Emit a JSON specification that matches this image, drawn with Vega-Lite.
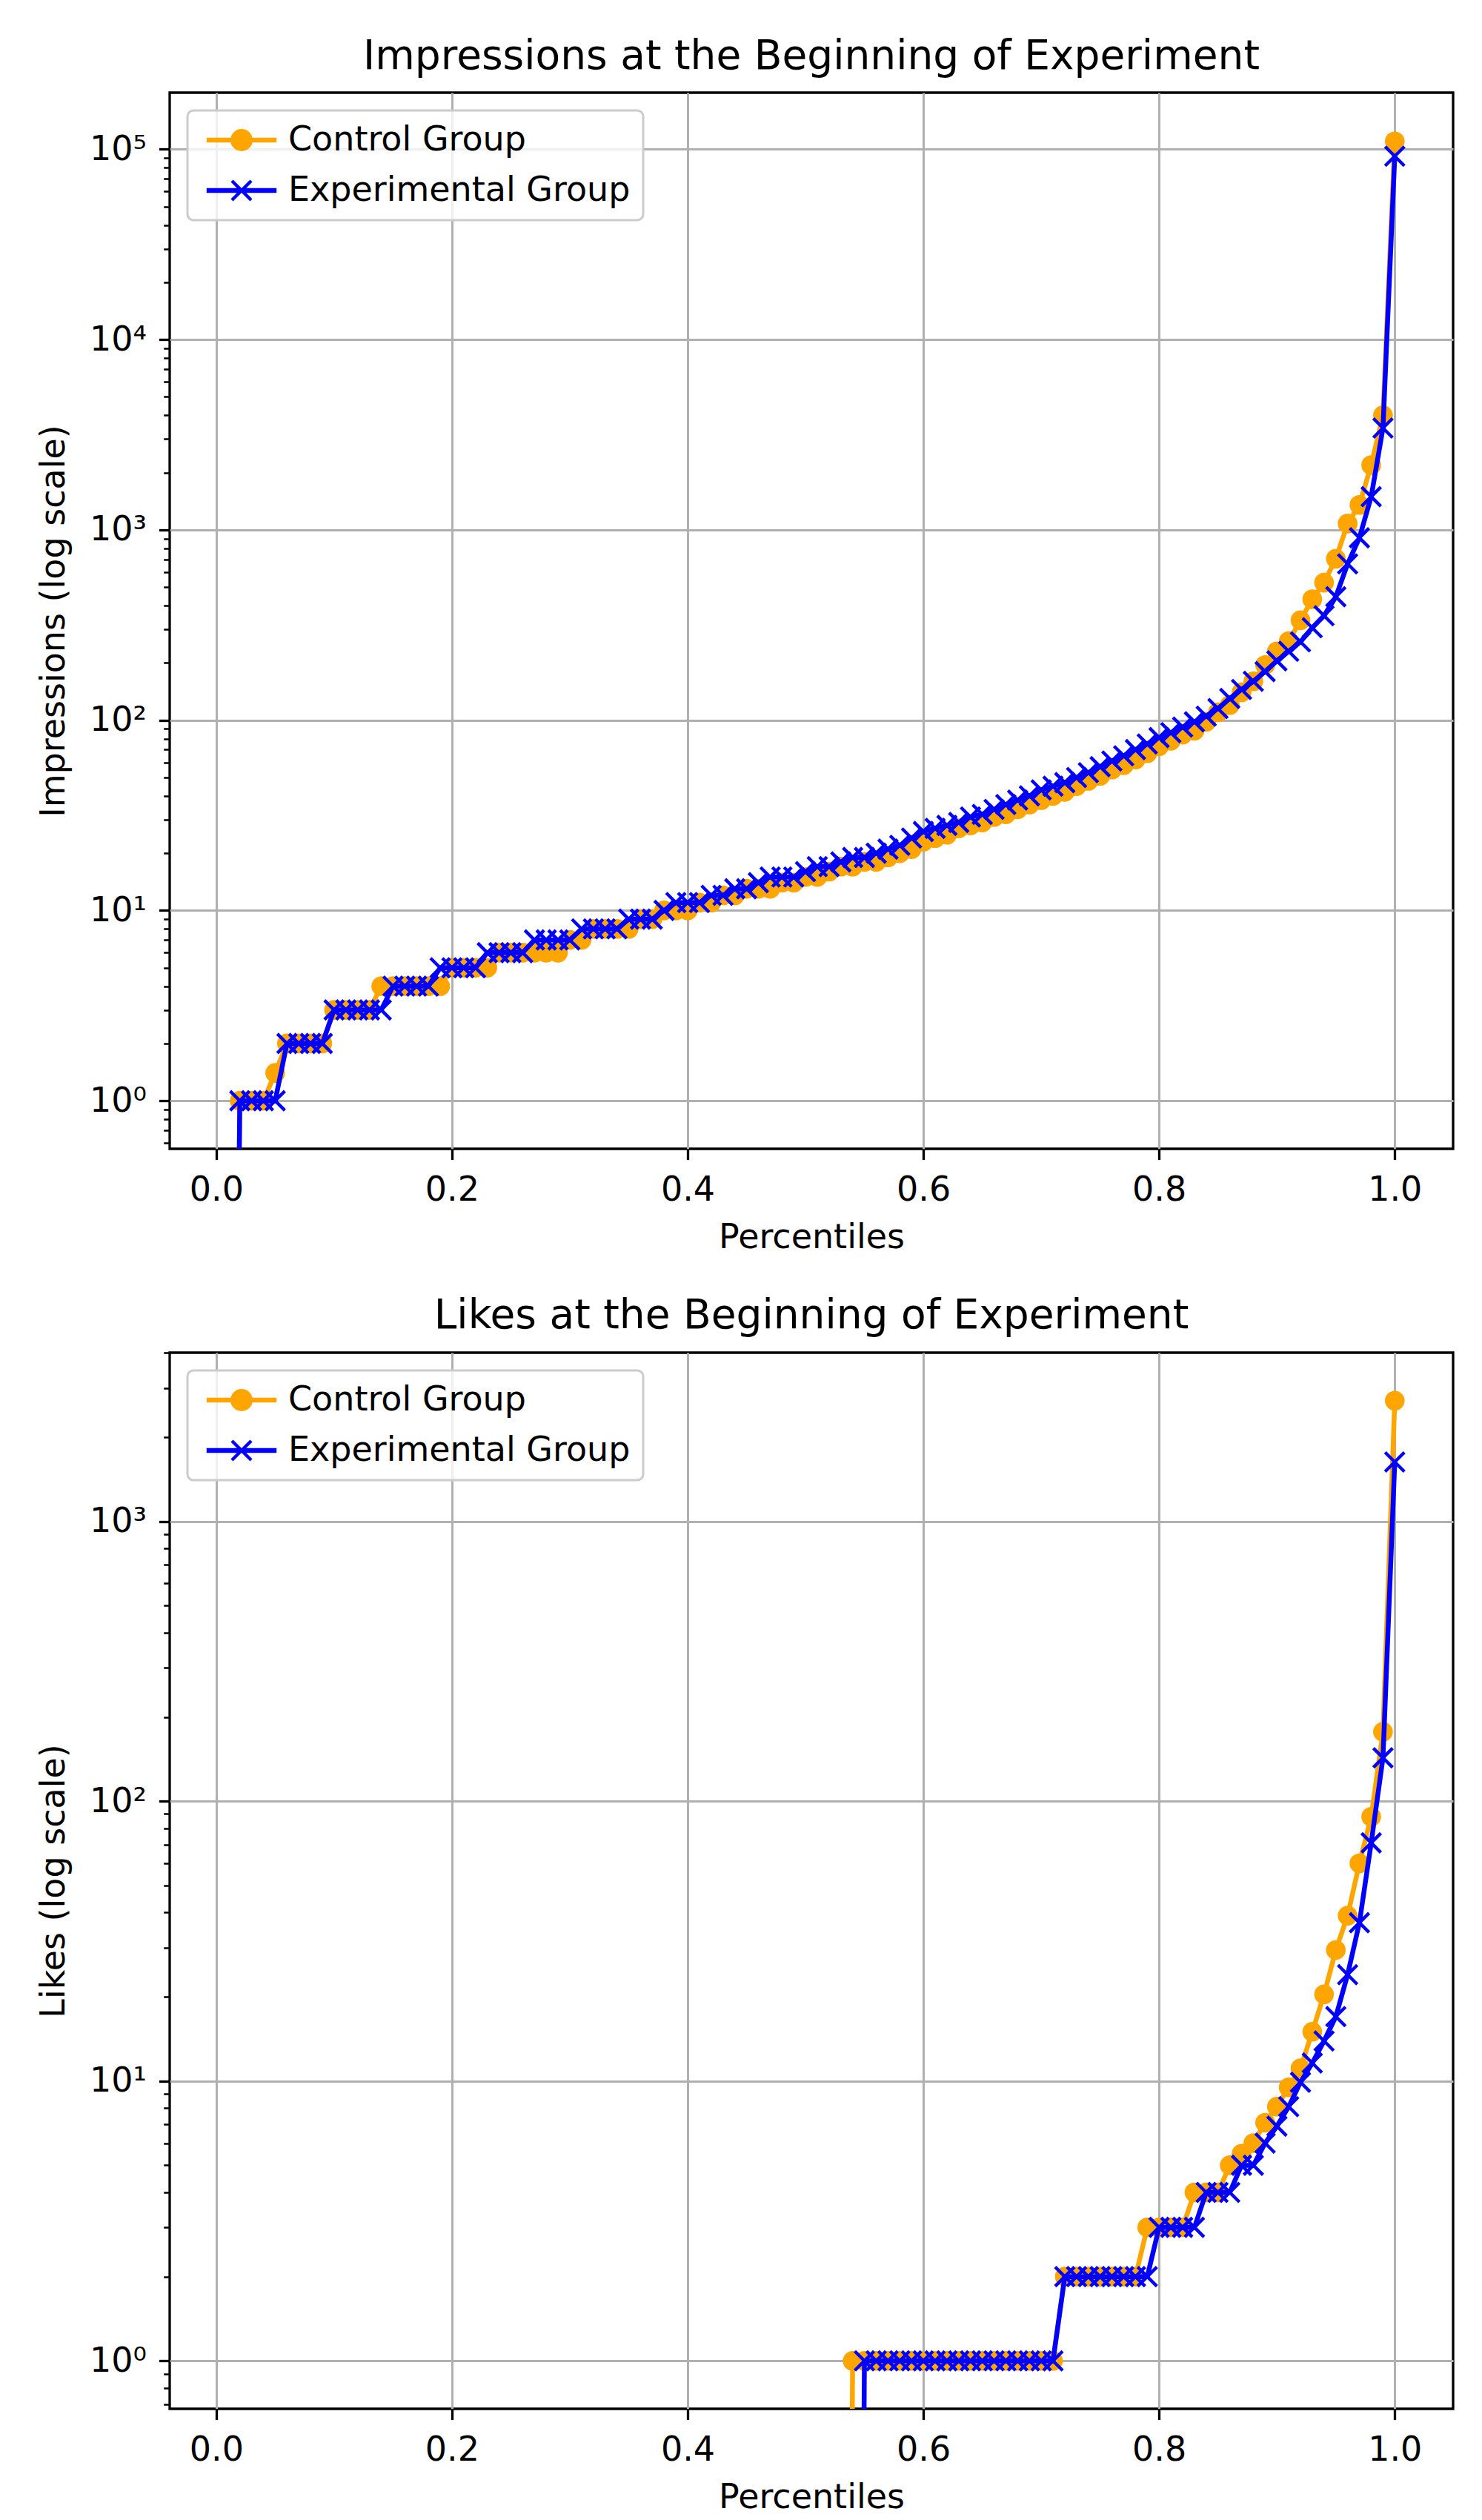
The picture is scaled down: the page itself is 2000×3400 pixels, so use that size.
{
  "$schema": "https://vega.github.io/schema/vega-lite/v6.json",
  "background": "white",
  "padding": {"left": 47, "top": 47, "right": 30, "bottom": 20},
  "spacing": 275,
  "bounds": "flush",
  "datasets": {
    "impressions": [
      {"p": 0.01, "control": 0.000001, "experimental": 0.000001},
      {"p": 0.02, "control": 1, "experimental": 1},
      {"p": 0.03, "control": 1, "experimental": 1},
      {"p": 0.04, "control": 1, "experimental": 1},
      {"p": 0.05, "control": 1.4, "experimental": 1},
      {"p": 0.06, "control": 2, "experimental": 2},
      {"p": 0.07, "control": 2, "experimental": 2},
      {"p": 0.08, "control": 2, "experimental": 2},
      {"p": 0.09, "control": 2, "experimental": 2},
      {"p": 0.10, "control": 3, "experimental": 3},
      {"p": 0.11, "control": 3, "experimental": 3},
      {"p": 0.12, "control": 3, "experimental": 3},
      {"p": 0.13, "control": 3, "experimental": 3},
      {"p": 0.14, "control": 4, "experimental": 3},
      {"p": 0.15, "control": 4, "experimental": 4},
      {"p": 0.16, "control": 4, "experimental": 4},
      {"p": 0.17, "control": 4, "experimental": 4},
      {"p": 0.18, "control": 4, "experimental": 4},
      {"p": 0.19, "control": 4, "experimental": 5},
      {"p": 0.20, "control": 5, "experimental": 5},
      {"p": 0.21, "control": 5, "experimental": 5},
      {"p": 0.22, "control": 5, "experimental": 5},
      {"p": 0.23, "control": 5, "experimental": 6},
      {"p": 0.24, "control": 6, "experimental": 6},
      {"p": 0.25, "control": 6, "experimental": 6},
      {"p": 0.26, "control": 6, "experimental": 6},
      {"p": 0.27, "control": 6, "experimental": 7},
      {"p": 0.28, "control": 6, "experimental": 7},
      {"p": 0.29, "control": 6, "experimental": 7},
      {"p": 0.30, "control": 7, "experimental": 7},
      {"p": 0.31, "control": 7, "experimental": 8},
      {"p": 0.32, "control": 8, "experimental": 8},
      {"p": 0.33, "control": 8, "experimental": 8},
      {"p": 0.34, "control": 8, "experimental": 8},
      {"p": 0.35, "control": 8, "experimental": 9},
      {"p": 0.36, "control": 9, "experimental": 9},
      {"p": 0.37, "control": 9, "experimental": 9},
      {"p": 0.38, "control": 10, "experimental": 10},
      {"p": 0.39, "control": 10, "experimental": 11},
      {"p": 0.40, "control": 10, "experimental": 11},
      {"p": 0.41, "control": 11, "experimental": 11},
      {"p": 0.42, "control": 11, "experimental": 12},
      {"p": 0.43, "control": 12, "experimental": 12},
      {"p": 0.44, "control": 12, "experimental": 13},
      {"p": 0.45, "control": 13, "experimental": 13},
      {"p": 0.46, "control": 13, "experimental": 14},
      {"p": 0.47, "control": 13, "experimental": 15},
      {"p": 0.48, "control": 14, "experimental": 15},
      {"p": 0.49, "control": 14, "experimental": 15},
      {"p": 0.50, "control": 15, "experimental": 16},
      {"p": 0.51, "control": 15, "experimental": 17},
      {"p": 0.52, "control": 16, "experimental": 17},
      {"p": 0.53, "control": 17, "experimental": 18},
      {"p": 0.54, "control": 17, "experimental": 19},
      {"p": 0.55, "control": 18, "experimental": 19},
      {"p": 0.56, "control": 18, "experimental": 20},
      {"p": 0.57, "control": 19, "experimental": 21},
      {"p": 0.58, "control": 20, "experimental": 22},
      {"p": 0.59, "control": 21, "experimental": 24},
      {"p": 0.60, "control": 23, "experimental": 26},
      {"p": 0.61, "control": 24, "experimental": 27},
      {"p": 0.62, "control": 25, "experimental": 28},
      {"p": 0.63, "control": 27, "experimental": 29},
      {"p": 0.64, "control": 28, "experimental": 31},
      {"p": 0.65, "control": 29, "experimental": 32},
      {"p": 0.66, "control": 31, "experimental": 34},
      {"p": 0.67, "control": 32, "experimental": 36},
      {"p": 0.68, "control": 34, "experimental": 38},
      {"p": 0.69, "control": 36, "experimental": 40},
      {"p": 0.70, "control": 38, "experimental": 43},
      {"p": 0.71, "control": 40, "experimental": 45},
      {"p": 0.72, "control": 42, "experimental": 47},
      {"p": 0.73, "control": 45, "experimental": 50},
      {"p": 0.74, "control": 48, "experimental": 53},
      {"p": 0.75, "control": 51, "experimental": 57},
      {"p": 0.76, "control": 55, "experimental": 61},
      {"p": 0.77, "control": 58, "experimental": 65},
      {"p": 0.78, "control": 62, "experimental": 70},
      {"p": 0.79, "control": 67, "experimental": 75},
      {"p": 0.80, "control": 73, "experimental": 81},
      {"p": 0.81, "control": 78, "experimental": 86},
      {"p": 0.82, "control": 84, "experimental": 92},
      {"p": 0.83, "control": 88, "experimental": 98},
      {"p": 0.84, "control": 98, "experimental": 105},
      {"p": 0.85, "control": 110, "experimental": 115},
      {"p": 0.86, "control": 120, "experimental": 130},
      {"p": 0.87, "control": 140, "experimental": 145},
      {"p": 0.88, "control": 160, "experimental": 160},
      {"p": 0.89, "control": 195, "experimental": 180},
      {"p": 0.90, "control": 230, "experimental": 205},
      {"p": 0.91, "control": 260, "experimental": 230},
      {"p": 0.92, "control": 335, "experimental": 258},
      {"p": 0.93, "control": 432, "experimental": 306},
      {"p": 0.94, "control": 528, "experimental": 354},
      {"p": 0.95, "control": 705, "experimental": 445},
      {"p": 0.96, "control": 1079, "experimental": 663},
      {"p": 0.97, "control": 1352, "experimental": 908},
      {"p": 0.98, "control": 2190, "experimental": 1494},
      {"p": 0.99, "control": 4000, "experimental": 3430},
      {"p": 1.00, "control": 110000, "experimental": 92000}
    ],
    "likes": [
      {"p": 0.01, "control": 0.000001, "experimental": 0.000001},
      {"p": 0.02, "control": 0.000001, "experimental": 0.000001},
      {"p": 0.03, "control": 0.000001, "experimental": 0.000001},
      {"p": 0.04, "control": 0.000001, "experimental": 0.000001},
      {"p": 0.05, "control": 0.000001, "experimental": 0.000001},
      {"p": 0.06, "control": 0.000001, "experimental": 0.000001},
      {"p": 0.07, "control": 0.000001, "experimental": 0.000001},
      {"p": 0.08, "control": 0.000001, "experimental": 0.000001},
      {"p": 0.09, "control": 0.000001, "experimental": 0.000001},
      {"p": 0.10, "control": 0.000001, "experimental": 0.000001},
      {"p": 0.11, "control": 0.000001, "experimental": 0.000001},
      {"p": 0.12, "control": 0.000001, "experimental": 0.000001},
      {"p": 0.13, "control": 0.000001, "experimental": 0.000001},
      {"p": 0.14, "control": 0.000001, "experimental": 0.000001},
      {"p": 0.15, "control": 0.000001, "experimental": 0.000001},
      {"p": 0.16, "control": 0.000001, "experimental": 0.000001},
      {"p": 0.17, "control": 0.000001, "experimental": 0.000001},
      {"p": 0.18, "control": 0.000001, "experimental": 0.000001},
      {"p": 0.19, "control": 0.000001, "experimental": 0.000001},
      {"p": 0.20, "control": 0.000001, "experimental": 0.000001},
      {"p": 0.21, "control": 0.000001, "experimental": 0.000001},
      {"p": 0.22, "control": 0.000001, "experimental": 0.000001},
      {"p": 0.23, "control": 0.000001, "experimental": 0.000001},
      {"p": 0.24, "control": 0.000001, "experimental": 0.000001},
      {"p": 0.25, "control": 0.000001, "experimental": 0.000001},
      {"p": 0.26, "control": 0.000001, "experimental": 0.000001},
      {"p": 0.27, "control": 0.000001, "experimental": 0.000001},
      {"p": 0.28, "control": 0.000001, "experimental": 0.000001},
      {"p": 0.29, "control": 0.000001, "experimental": 0.000001},
      {"p": 0.30, "control": 0.000001, "experimental": 0.000001},
      {"p": 0.31, "control": 0.000001, "experimental": 0.000001},
      {"p": 0.32, "control": 0.000001, "experimental": 0.000001},
      {"p": 0.33, "control": 0.000001, "experimental": 0.000001},
      {"p": 0.34, "control": 0.000001, "experimental": 0.000001},
      {"p": 0.35, "control": 0.000001, "experimental": 0.000001},
      {"p": 0.36, "control": 0.000001, "experimental": 0.000001},
      {"p": 0.37, "control": 0.000001, "experimental": 0.000001},
      {"p": 0.38, "control": 0.000001, "experimental": 0.000001},
      {"p": 0.39, "control": 0.000001, "experimental": 0.000001},
      {"p": 0.40, "control": 0.000001, "experimental": 0.000001},
      {"p": 0.41, "control": 0.000001, "experimental": 0.000001},
      {"p": 0.42, "control": 0.000001, "experimental": 0.000001},
      {"p": 0.43, "control": 0.000001, "experimental": 0.000001},
      {"p": 0.44, "control": 0.000001, "experimental": 0.000001},
      {"p": 0.45, "control": 0.000001, "experimental": 0.000001},
      {"p": 0.46, "control": 0.000001, "experimental": 0.000001},
      {"p": 0.47, "control": 0.000001, "experimental": 0.000001},
      {"p": 0.48, "control": 0.000001, "experimental": 0.000001},
      {"p": 0.49, "control": 0.000001, "experimental": 0.000001},
      {"p": 0.50, "control": 0.000001, "experimental": 0.000001},
      {"p": 0.51, "control": 0.000001, "experimental": 0.000001},
      {"p": 0.52, "control": 0.000001, "experimental": 0.000001},
      {"p": 0.53, "control": 0.000001, "experimental": 0.000001},
      {"p": 0.54, "control": 1, "experimental": 0.000001},
      {"p": 0.55, "control": 1, "experimental": 1},
      {"p": 0.56, "control": 1, "experimental": 1},
      {"p": 0.57, "control": 1, "experimental": 1},
      {"p": 0.58, "control": 1, "experimental": 1},
      {"p": 0.59, "control": 1, "experimental": 1},
      {"p": 0.60, "control": 1, "experimental": 1},
      {"p": 0.61, "control": 1, "experimental": 1},
      {"p": 0.62, "control": 1, "experimental": 1},
      {"p": 0.63, "control": 1, "experimental": 1},
      {"p": 0.64, "control": 1, "experimental": 1},
      {"p": 0.65, "control": 1, "experimental": 1},
      {"p": 0.66, "control": 1, "experimental": 1},
      {"p": 0.67, "control": 1, "experimental": 1},
      {"p": 0.68, "control": 1, "experimental": 1},
      {"p": 0.69, "control": 1, "experimental": 1},
      {"p": 0.70, "control": 1, "experimental": 1},
      {"p": 0.71, "control": 1, "experimental": 1},
      {"p": 0.72, "control": 2, "experimental": 2},
      {"p": 0.73, "control": 2, "experimental": 2},
      {"p": 0.74, "control": 2, "experimental": 2},
      {"p": 0.75, "control": 2, "experimental": 2},
      {"p": 0.76, "control": 2, "experimental": 2},
      {"p": 0.77, "control": 2, "experimental": 2},
      {"p": 0.78, "control": 2, "experimental": 2},
      {"p": 0.79, "control": 3, "experimental": 2},
      {"p": 0.80, "control": 3, "experimental": 3},
      {"p": 0.81, "control": 3, "experimental": 3},
      {"p": 0.82, "control": 3, "experimental": 3},
      {"p": 0.83, "control": 4, "experimental": 3},
      {"p": 0.84, "control": 4, "experimental": 4},
      {"p": 0.85, "control": 4, "experimental": 4},
      {"p": 0.86, "control": 5, "experimental": 4},
      {"p": 0.87, "control": 5.5, "experimental": 5},
      {"p": 0.88, "control": 6, "experimental": 5},
      {"p": 0.89, "control": 7.1, "experimental": 6},
      {"p": 0.90, "control": 8.1, "experimental": 6.9},
      {"p": 0.91, "control": 9.5, "experimental": 8.1},
      {"p": 0.92, "control": 11.1, "experimental": 9.9},
      {"p": 0.93, "control": 15, "experimental": 11.6},
      {"p": 0.94, "control": 20.4, "experimental": 13.9},
      {"p": 0.95, "control": 29.4, "experimental": 17},
      {"p": 0.96, "control": 39, "experimental": 24},
      {"p": 0.97, "control": 60, "experimental": 36.8},
      {"p": 0.98, "control": 88, "experimental": 71},
      {"p": 0.99, "control": 177, "experimental": 143},
      {"p": 1.00, "control": 2700, "experimental": 1630}
    ]
  },
  "vconcat": [
    {
      "data": {"name": "impressions"},
      "width": 1732,
      "height": 1425,
      "title": {"text": "Impressions at the Beginning of Experiment"},
      "encoding": {
        "x": {
          "field": "p",
          "type": "quantitative",
          "scale": {"domain": [-0.0395, 1.0495], "nice": false, "zero": false},
          "axis": {"title": "Percentiles", "values": [0, 0.2, 0.4, 0.6, 0.8, 1.0], "format": ".1f"}
        }
      },
      "layer": [
        {
          "mark": {"type": "line", "clip": true, "strokeWidth": 6.5, "strokeJoin": "round"},
          "encoding": {
            "y": {
              "field": "control",
              "type": "quantitative",
              "scale": {"type": "log", "domain": [0.559, 198400], "nice": false},
              "axis": {
                "orient": "left",
                "title": "Impressions (log scale)",
                "values": [1, 10, 100, 1000, 10000, 100000],
                "labelExpr": "'10' + ['⁰','¹','²','³','⁴','⁵'][round(log(datum.value) / LN10)]",
                "grid": true
              }
            },
            "color": {
              "datum": "Control Group",
              "type": "nominal",
              "scale": {"domain": ["Control Group", "Experimental Group"], "range": ["#ffa500", "#0000ff"]},
              "legend": {
                "title": null,
                "orient": "top-left",
                "offset": 24,
                "padding": 17,
                "fillColor": "rgba(255,255,255,0.8)",
                "strokeColor": "#cccccc",
                "cornerRadius": 8,
                "symbolSize": 900,
                "symbolOffset": 33,
                "labelFontSize": 46,
                "labelColor": "black",
                "labelOffset": 40,
                "labelLimit": 1000,
                "rowPadding": 22,
                "encoding": {
                  "legend": {"strokeWidth": {"value": 3}},
                  "symbols": {
                    "shape": {"condition": {"test": "datum.value === 'Control Group'", "value": "M-3,-0.07L3,-0.07L3,0.07L-3,0.07Z M-0.853,0A0.853,0.853 0 1,1 0.853,0A0.853,0.853 0 1,1 -0.853,0Z"}, "value": "M-3,-0.07L3,-0.07L3,0.07L-3,0.07Z M-0.867,-0.867L0.867,0.867 M-0.867,0.867L0.867,-0.867"},
                    "fill": {"condition": {"test": "datum.value === 'Control Group'", "value": "#ffa500"}, "value": "#0000ff"},
                    "stroke": {"condition": {"test": "datum.value === 'Control Group'", "value": "#ffa500"}, "value": "#0000ff"},
                    "strokeWidth": {"value": 4.4},
                    "size": {"value": 900},
                    "opacity": {"value": 1}
                  }
                }
              }
            }
          }
        },
        {
          "mark": {"type": "point", "clip": true, "filled": true, "opacity": 1, "shape": "circle", "size": 707},
          "encoding": {
            "y": {
              "field": "control",
              "type": "quantitative",
              "axis": {
                "orient": "left",
                "title": null,
                "values": [0.6, 0.7, 0.8, 0.9, 2, 3, 4, 5, 6, 7, 8, 9, 20, 30, 40, 50, 60, 70, 80, 90, 200, 300, 400, 500, 600, 700, 800, 900, 2000, 3000, 4000, 5000, 6000, 7000, 8000, 9000, 20000, 30000, 40000, 50000, 60000, 70000, 80000, 90000],
                "labels": false,
                "grid": false,
                "tickSize": 8.3,
                "tickWidth": 2.5
              }
            },
            "color": {"datum": "Control Group", "type": "nominal"}
          }
        },
        {
          "mark": {"type": "line", "clip": true, "strokeWidth": 6.5, "strokeJoin": "round"},
          "encoding": {
            "y": {"field": "experimental", "type": "quantitative", "axis": null},
            "color": {"datum": "Experimental Group", "type": "nominal"}
          }
        },
        {
          "mark": {"type": "point", "clip": true, "filled": false, "opacity": 1, "shape": "M-1,-1L1,1M-1,1L1,-1", "size": 676, "strokeWidth": 4.4},
          "encoding": {
            "y": {"field": "experimental", "type": "quantitative", "axis": null},
            "color": {"datum": "Experimental Group", "type": "nominal"}
          }
        }
      ],
      "resolve": {"axis": {"y": "independent"}}
    },
    {
      "data": {"name": "likes"},
      "width": 1732,
      "height": 1425,
      "title": {"text": "Likes at the Beginning of Experiment"},
      "encoding": {
        "x": {
          "field": "p",
          "type": "quantitative",
          "scale": {"domain": [-0.0395, 1.0495], "nice": false, "zero": false},
          "axis": {"title": "Percentiles", "values": [0, 0.2, 0.4, 0.6, 0.8, 1.0], "format": ".1f"}
        }
      },
      "layer": [
        {
          "mark": {"type": "line", "clip": true, "strokeWidth": 6.5, "strokeJoin": "round"},
          "encoding": {
            "y": {
              "field": "control",
              "type": "quantitative",
              "scale": {"type": "log", "domain": [0.674, 4009], "nice": false},
              "axis": {
                "orient": "left",
                "title": "Likes (log scale)",
                "values": [1, 10, 100, 1000],
                "labelExpr": "'10' + ['⁰','¹','²','³','⁴','⁵'][round(log(datum.value) / LN10)]",
                "grid": true
              }
            },
            "color": {
              "datum": "Control Group",
              "type": "nominal",
              "scale": {"domain": ["Control Group", "Experimental Group"], "range": ["#ffa500", "#0000ff"]},
              "legend": {
                "title": null,
                "orient": "top-left",
                "offset": 24,
                "padding": 17,
                "fillColor": "rgba(255,255,255,0.8)",
                "strokeColor": "#cccccc",
                "cornerRadius": 8,
                "symbolSize": 900,
                "symbolOffset": 33,
                "labelFontSize": 46,
                "labelColor": "black",
                "labelOffset": 40,
                "labelLimit": 1000,
                "rowPadding": 22,
                "encoding": {
                  "legend": {"strokeWidth": {"value": 3}},
                  "symbols": {
                    "shape": {"condition": {"test": "datum.value === 'Control Group'", "value": "M-3,-0.07L3,-0.07L3,0.07L-3,0.07Z M-0.853,0A0.853,0.853 0 1,1 0.853,0A0.853,0.853 0 1,1 -0.853,0Z"}, "value": "M-3,-0.07L3,-0.07L3,0.07L-3,0.07Z M-0.867,-0.867L0.867,0.867 M-0.867,0.867L0.867,-0.867"},
                    "fill": {"condition": {"test": "datum.value === 'Control Group'", "value": "#ffa500"}, "value": "#0000ff"},
                    "stroke": {"condition": {"test": "datum.value === 'Control Group'", "value": "#ffa500"}, "value": "#0000ff"},
                    "strokeWidth": {"value": 4.4},
                    "size": {"value": 900},
                    "opacity": {"value": 1}
                  }
                }
              }
            }
          }
        },
        {
          "mark": {"type": "point", "clip": true, "filled": true, "opacity": 1, "shape": "circle", "size": 707},
          "encoding": {
            "y": {
              "field": "control",
              "type": "quantitative",
              "axis": {
                "orient": "left",
                "title": null,
                "values": [0.7, 0.8, 0.9, 2, 3, 4, 5, 6, 7, 8, 9, 20, 30, 40, 50, 60, 70, 80, 90, 200, 300, 400, 500, 600, 700, 800, 900, 2000, 3000, 4000],
                "labels": false,
                "grid": false,
                "tickSize": 8.3,
                "tickWidth": 2.5
              }
            },
            "color": {"datum": "Control Group", "type": "nominal"}
          }
        },
        {
          "mark": {"type": "line", "clip": true, "strokeWidth": 6.5, "strokeJoin": "round"},
          "encoding": {
            "y": {"field": "experimental", "type": "quantitative", "axis": null},
            "color": {"datum": "Experimental Group", "type": "nominal"}
          }
        },
        {
          "mark": {"type": "point", "clip": true, "filled": false, "opacity": 1, "shape": "M-1,-1L1,1M-1,1L1,-1", "size": 676, "strokeWidth": 4.4},
          "encoding": {
            "y": {"field": "experimental", "type": "quantitative", "axis": null},
            "color": {"datum": "Experimental Group", "type": "nominal"}
          }
        }
      ],
      "resolve": {"axis": {"y": "independent"}}
    }
  ],
  "resolve": {"scale": {"color": "independent"}, "legend": {"color": "independent"}},
  "config": {
    "font": "DejaVu Sans",
    "view": {"stroke": "black", "strokeWidth": 3.3},
    "title": {"fontSize": 55, "fontWeight": "normal", "color": "black", "offset": 20, "baseline": "bottom", "anchor": "middle"},
    "axis": {
      "labelFontSize": 46,
      "labelColor": "black",
      "titleFontSize": 46,
      "titleFontWeight": "normal",
      "titleColor": "black",
      "tickColor": "black",
      "tickWidth": 3.3,
      "tickSize": 14.6,
      "domain": false,
      "gridColor": "#b0b0b0",
      "gridWidth": 3,
      "gridOpacity": 1,
      "labelOverlap": false,
      "labelFlush": false,
      "labelBound": false
    },
    "axisX": {"labelPadding": 19, "titlePadding": 19},
    "axisY": {"labelPadding": 17, "titlePadding": 24},
    "legend": {"labelFont": "DejaVu Sans"}
  }
}
